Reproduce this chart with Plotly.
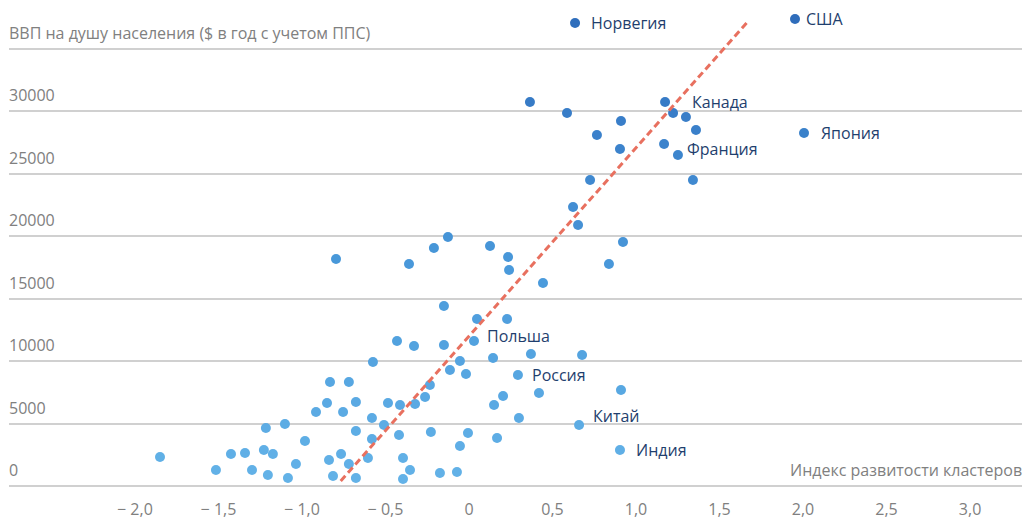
import plotly.graph_objects as go

# ---- data (x: cluster development index, y: GDP per capita PPP) ----
x_vals = [0.635, 1.952, 0.365, 0.587, 1.174, 1.222, 1.299, 0.910, 1.359, 0.766,
          2.006, 1.168, 0.904, 1.251, 0.725, 1.341, 0.623, 0.653, 0.922, 0.838,
          0.443, -0.796, -0.359, -0.210, -0.126, 0.126, 0.234, 0.240, -0.150, 0.048,
          0.228, -0.431, -0.329, -0.150, 0.030, -0.575, -0.054, 0.144, 0.371, 0.677,
          -0.114, -0.018, 0.293, -0.234, -0.263, -0.485, -0.413, -0.323, 0.204, 0.150,
          0.419, 0.910, -0.509, -0.419, -0.228, -0.006, 0.299, 0.659, -0.054, 0.168,
          -0.395, -0.353, -0.395, -0.174, -0.072, 0.904, -0.832, -0.719, -0.850, -0.677,
          -0.916, -0.754, -0.581, -1.216, -1.102, -0.677, -0.982, -0.581, -1.850, -1.425,
          -1.341, -1.228, -1.174, -0.838, -0.766, -0.605, -1.515, -1.299, -1.036, -0.719,
          -1.204, -1.084, -0.814, -0.677]
y_vals = [37080, 37400, 30760, 29880, 30760, 29880, 29560, 29240, 28520, 28120,
          28280, 27400, 27000, 26520, 24520, 24520, 22360, 20910, 19550, 17790,
          16270, 18190, 17790, 19070, 19950, 19230, 18350, 17310, 14430, 13390,
          13390, 11630, 11230, 11310, 11630, 9950, 10030, 10270, 10590, 10510,
          9310, 8990, 8910, 8110, 7150, 6670, 6510, 6590, 7230, 6510,
          7470, 7710, 4910, 4110, 4350, 4270, 5470, 4910, 3230, 3870,
          2270, 1310, 580, 1070, 1150, 2910, 8350, 8350, 6670, 6750,
          5950, 5950, 5470, 4670, 4990, 4430, 3630, 3790, 2350, 2590,
          2670, 2910, 2590, 2110, 2590, 2270, 1310, 1310, 1790, 1790,
          900, 660, 820, 660]

# labelled countries (index into the arrays above)
countries = ["Норвегия", "США", "Канада", "Япония", "Франция", "Польша", "Россия", "Китай", "Индия"]
country_idx = [0, 1, 4, 10, 13, 34, 42, 57, 65]

# trend line end points
trend_x = [-0.768, 1.663]
trend_y = [420, 37100]

# axis ticks
y_ticks = [0, 5000, 10000, 15000, 20000, 25000, 30000, 35000]
y_ticktext = ["0", "5000", "10000", "15000", "20000", "25000", "30000",
              "ВВП на душу населения ($ в год с учетом ППС)"]
x_ticks = [-2.0, -1.5, -1.0, -0.5, 0.0, 0.5, 1.0, 1.5, 2.0, 2.5, 3.0]
x_ticktext = ["− 2,0", "− 1,5", "− 1,0", "− 0,5", "0", "0,5", "1,0", "1,5", "2,0", "2,5", "3,0"]
x_title = "Индекс развитости кластеров"

FONT = "Open Sans"
GRAY = "#808080"
NAVY = "#1F3F6E"

fig = go.Figure()

fig.add_trace(go.Scatter(
    x=x_vals, y=y_vals, mode="markers",
    marker=dict(size=10, color=y_vals,
                colorscale=[[0, "#64B3E8"], [0.45, "#4A9ADB"], [0.75, "#3A80CA"], [1, "#2E6CBA"]],
                cmin=0, cmax=38000, line=dict(width=0)),
    hoverinfo="x+y", showlegend=False))

fig.add_trace(go.Scatter(
    x=trend_x, y=trend_y, mode="lines",
    line=dict(color="#E8705F", width=3, dash="7px,4px"),
    hoverinfo="skip", showlegend=False))

offsets = {"Норвегия": (14, 0), "США": (9, 0), "Канада": (25, 0), "Япония": (15, 0),
           "Франция": (7, 6), "Польша": (11, 5), "Россия": (12, 0), "Китай": (12, 9),
           "Индия": (14, 0)}
for name, i in zip(countries, country_idx):
    dx, dy = offsets[name]
    fig.add_annotation(x=x_vals[i], y=y_vals[i], text=name, showarrow=False,
                       xanchor="left", yanchor="middle", xshift=dx, yshift=dy,
                       font=dict(family=FONT, size=16, color=NAVY))

# y-axis labels sit left-aligned just above their gridlines
for v, t in zip(y_ticks, y_ticktext):
    fig.add_annotation(x=0, xref="paper", y=v, yref="y", text=t, showarrow=False,
                       xanchor="left", yanchor="middle", xshift=-2, yshift=16,
                       font=dict(family=FONT, size=16, color=GRAY))

fig.add_annotation(x=1, xref="paper", y=0, yref="y", text=x_title, showarrow=False,
                   xanchor="right", yanchor="middle", xshift=2, yshift=16,
                   font=dict(family=FONT, size=16, color=GRAY))

fig.update_layout(
    width=1025, height=520,
    margin=dict(l=9, r=3, t=0, b=30),
    paper_bgcolor="white", plot_bgcolor="white",
    font=dict(family=FONT, size=16, color=GRAY),
    xaxis=dict(range=[-2.754, 3.311], tickvals=x_ticks, ticktext=x_ticktext,
               showgrid=False, zeroline=False, showline=False, ticks="",
               ticklabelstandoff=8,
               tickfont=dict(family=FONT, size=16, color=GRAY)),
    yaxis=dict(range=[-296, 38923], tickvals=y_ticks,
               showgrid=True, gridcolor="#D0D0D0", gridwidth=1.5,
               zeroline=False, showline=False, ticks="", showticklabels=False),
)

fig.write_html("out.html", config={"displayModeBar": False},
               post_script="document.body.style.margin='0';")
